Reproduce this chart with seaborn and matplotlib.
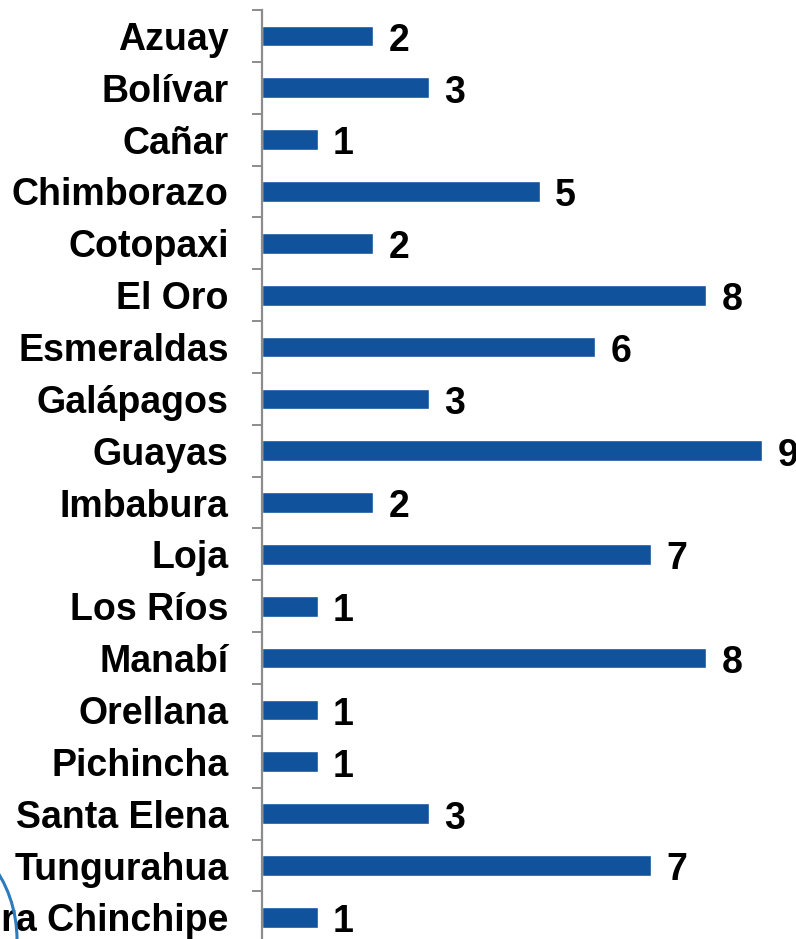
import pandas as pd
import numpy as np
import matplotlib
matplotlib.use("Agg")
import matplotlib.pyplot as plt
from matplotlib.patches import Circle
import seaborn as sns

# -------------------------------
# Data
# -------------------------------

provincias = ["Azuay", "Bolívar", "Cañar", "Chimborazo", "Cotopaxi", "El Oro",
              "Esmeraldas", "Galápagos", "Guayas", "Imbabura", "Loja", "Los Ríos",
              "Manabí", "Orellana", "Pichincha", "Santa Elena", "Tungurahua",
              "Zamora Chinchipe"]
valores = [2, 3, 1, 5, 2, 8, 6, 3, 9, 2, 7, 1, 8, 1, 1, 3, 7, 1]

df = pd.DataFrame({"Provincia": provincias, "Valor": valores})

# -------------------------------
# Plot
# -------------------------------

sns.set_style("white")
plt.rcParams["font.family"] = ["Liberation Sans", "DejaVu Sans"]

fig = plt.figure(figsize=(7.96, 9.39), dpi=100)
ax = fig.add_axes([262 / 796, 1 - 943.3 / 939, 500 / 796, 933.3 / 939])

sns.barplot(data=df, x="Valor", y="Provincia", orient="h", color="#10529C",
            saturation=1, width=0.4, ax=ax)

# value labels next to the bars
for i, v in enumerate(valores):
    ax.annotate(str(v), xy=(v, i), xytext=(11, -3.5), textcoords="offset points",
                ha="left", va="center", fontsize=27, fontweight="bold",
                color="black", annotation_clip=False)

n = len(provincias)
ax.set_xlim(0, 9)
ax.set_ylim(n - 0.5, -0.5)
ax.set_xlabel("")
ax.set_ylabel("")
ax.set_xticks([])

for s in ["top", "right", "bottom"]:
    ax.spines[s].set_visible(False)
ax.spines["left"].set_color("#8C8C8C")
ax.spines["left"].set_linewidth(1.6)

ax.set_yticks(np.arange(-0.5, n, 1.0), minor=True)
ax.tick_params(axis="y", which="major", length=0, pad=24, labelsize=27,
               labelcolor="black")
ax.tick_params(axis="y", which="minor", length=7, width=1.4, color="#8C8C8C",
               direction="out", left=True)
for lbl in ax.get_yticklabels():
    lbl.set_fontweight("bold")

# decorative arc at bottom-left
fig.patches.append(Circle((-78 / 796, (939 - 940) / 939), 95 / 796,
                          transform=fig.transFigure, fill=False,
                          edgecolor="#2B7BBF", linewidth=2.2))

fig.savefig("out.png", dpi=100)
